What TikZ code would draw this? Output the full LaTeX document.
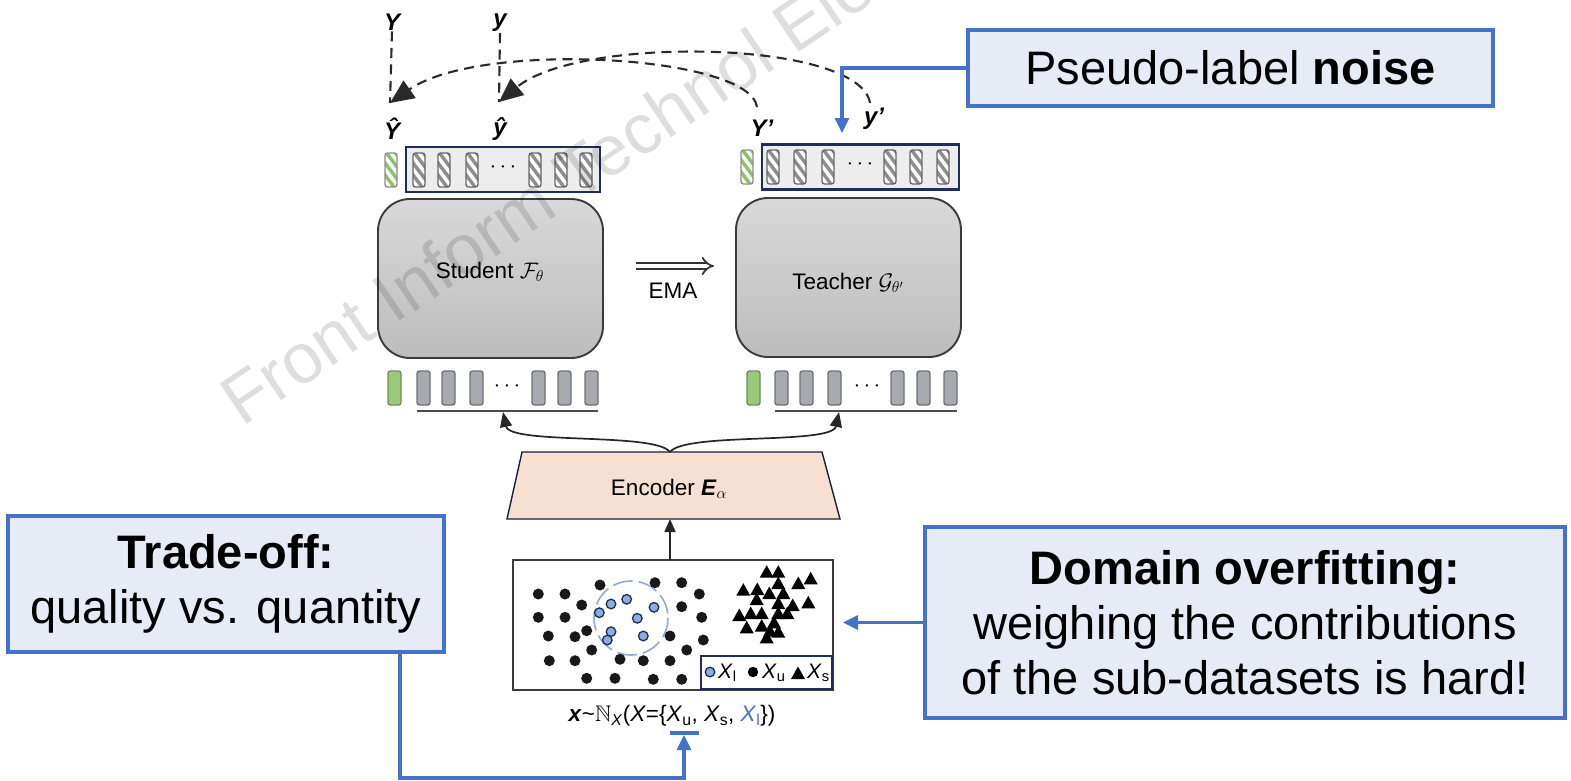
\RequirePackage{fix-cm}
\documentclass[tikz,border=0pt]{standalone}
\usepackage{amssymb}
\usepackage{fontspec}
\setmainfont{Liberation Sans}
\usetikzlibrary{arrows.meta,calc}
\definecolor{cfill}{HTML}{E6EBF6}
\definecolor{cblue}{HTML}{4472C4}
\definecolor{navy}{HTML}{1F2D5A}
\definecolor{tokgrey}{HTML}{A7ABB0}
\definecolor{tokedge}{HTML}{6E7176}
\definecolor{tokgreen}{HTML}{9CC87C}
\definecolor{greenedge}{HTML}{6C8F58}
\definecolor{hatchgrey}{HTML}{8E8E8E}
\definecolor{hatchgreen}{HTML}{8CC26A}
\definecolor{rowfill}{HTML}{EDEDED}
\definecolor{encfill}{HTML}{F7DFD1}
\definecolor{ptblue}{HTML}{8FAADC}
\definecolor{dashgrey}{HTML}{2A2A2A}
\definecolor{boxedge}{HTML}{3B3B3B}
\newcommand\solidtok[3]{\draw[#3, rounded corners=2.5pt, line width=1.4pt] (#1,#2) rectangle ++(13,34);}
\newcommand\hatchtok[4]{%
  \begin{scope}
    \clip[rounded corners=2.5pt] (#1,#2) rectangle ++(12,34);
    \fill[white] (#1,#2) rectangle ++(12,34);
    \foreach \k in {-1,0,1,2,3} {\draw[#3, line width=3.4pt] ([shift={(-3,\k*12-6)}]#1,#2) -- ++(18,24);}
  \end{scope}
  \draw[#4, line width=1.3pt, rounded corners=2.5pt] (#1,#2) rectangle ++(12,34);}
\tikzset{
  callout/.style={draw=cblue, line width=3.3pt, fill=cfill, align=center, inner sep=0pt,
    font=\fontsize{47}{55}\selectfont},
  barr/.style={draw=cblue, line width=3.1pt, -{Triangle[length=15pt,width=14pt]}},
  lab/.style={font=\fontsize{24}{26}\selectfont\bfseries\itshape, inner sep=1pt},
  dsh/.style={draw=dashgrey, line width=2.1pt, dash pattern=on 10pt off 6.5pt},
  modelbox/.style={draw=boxedge, line width=1.9pt, rounded corners=32pt,
    top color=black!15, bottom color=black!26, minimum width=225, minimum height=159, inner sep=0pt},
  rowbox/.style={draw=navy, fill=rowfill, line width=2.9pt, minimum height=45, inner sep=0pt},
  txt/.style={font=\fontsize{22.5}{26}\selectfont, inner sep=0pt},
  blk/.style={draw=black!85, line width=1.7pt, -{Triangle[length=15pt,width=12pt]}},
  tri/.pic={\fill[black] (0,-7.5) -- (7,5) -- (-7,5) -- cycle;}
}
\begin{document}
\begin{tikzpicture}[x=1pt,y=-1pt]
\useasboundingbox (0,0) rectangle (1571,780);
\fill[white] (0,0) rectangle (1571,780);

% ---- callouts
\node[callout, minimum width=525, minimum height=76] (pseudo) at (1230.5,68) {Pseudo-label \textbf{noise}};
\node[callout, minimum width=436, minimum height=136] (trade) at (226,584) {\textbf{Trade-off:}\\quality vs. quantity};
\node[callout, minimum width=640, minimum height=191] (dom) at (1245,622.5) {\textbf{Domain overfitting:}\\weighing the contributions\\of the sub-datasets is hard!};

% ---- top token rows
\node[rowbox, minimum width=194] (srow) at (503,169.5) {};
\node[rowbox, minimum width=197] (trow) at (860.5,167) {};
\hatchtok{385}{153}{hatchgreen}{black!45}
\foreach \x in {413,438,466,529,555,580} {\hatchtok{\x}{153}{hatchgrey}{black!60}}
\node[txt] at (503,167) {$\cdots$};
\hatchtok{741}{150}{hatchgreen}{black!45}
\foreach \x in {767,794,822,884,910,937} {\hatchtok{\x}{150}{hatchgrey}{black!60}}
\node[txt] at (860,164) {$\cdots$};

% ---- model boxes
\node[modelbox] (stu) at (490.5,278.5) {};
\node[modelbox] (tea) at (848.5,277.5) {};
\node[txt] (stul) at (490,272) {Student $\mathcal{F}_{\theta}$};
\node[txt] (teal) at (848,283) {Teacher $\mathcal{G}_{\theta'}$};

% ---- EMA
\coordinate (emaA) at (636,266);
\coordinate (emaB) at (714,266);
\draw[draw=black!80, line width=1.7pt, double=white, double distance=4.5pt, -{Implies}] (emaA) -- (emaB);
\node[txt] (ema) at (673,291) {EMA};

% ---- bottom token rows
\solidtok{388}{371}{fill=tokgreen, draw=greenedge}
\foreach \x in {417,442,470,532,558,585} {\solidtok{\x}{371}{fill=tokgrey, draw=tokedge}}
\node[txt] at (507,386) {$\cdots$};
\solidtok{747}{371}{fill=tokgreen, draw=greenedge}
\foreach \x in {775,800,828,891,917,944} {\solidtok{\x}{371}{fill=tokgrey, draw=tokedge}}
\node[txt] at (867,386) {$\cdots$};
\draw[black!70, line width=1.6pt] (417,411) -- (598,411);
\draw[black!70, line width=1.6pt] (775,411) -- (957,411);

% ---- encoder
\fill[encfill] (522,452) -- (822,452) -- (840,519) -- (507,519) -- cycle;
\draw[navy!70!black, line width=1.4pt] (522,452) -- (822,452) -- (840,519) -- (507,519) -- cycle;
\node[txt] (enc) at (669,489) {Encoder \textbf{\textit{E}}$_{\alpha}$};
\coordinate (encT) at (670,452);
\coordinate (encB) at (670,519);
\coordinate (stuIn) at (503,412);
\coordinate (teaIn) at (839,412);
\draw[blk] (encT) .. controls (655,432) and (510,445) .. (stuIn);
\draw[blk] (encT) .. controls (685,432) and (832,445) .. (teaIn);

% ---- dataset
\node[draw=boxedge, line width=1.9pt, minimum width=320, minimum height=130, inner sep=0pt] (data) at (673,625) {};
\coordinate (dataT) at (670,560);
\draw[blk, -{Triangle[length=13pt,width=11pt]}] (dataT) -- (encB);
\draw[ptblue, line width=1.6pt, dash pattern=on 20pt off 6pt] (631,618) circle (37);
\foreach \a/\b in {538.3/594, 565/594, 600/585, 655/582.7, 681.7/582.7, 699.3/594,
  581.7/605, 538.3/617.3, 565/617.3, 681.7/606.7, 701.7/617.3,
  548.3/636, 575/636.7, 586.7/630.7, 670/636, 703.3/640,
  591.7/650, 686.7/650,
  549.3/660.7, 575/660.7, 620/659.3, 643.3/660.7, 670/660.7,
  586.7/678.3, 615/678.3, 653.3/679.3, 681.7/679.3}
  {\fill[black!90] (\a,\b) circle (5.5);}
\foreach \a/\b in {611/604, 626.7/599.3, 654/607.3, 599.3/612.7, 637.3/618.3, 611/631.7, 607.3/640, 643.3/636}
  {\draw[fill=ptblue, draw=navy, line width=1.3pt] (\a,\b) circle (4.8);}
\foreach \a/\b in {766.7/572.7, 778.3/572.7, 778.3/584, 798.3/584, 810.7/579.3, 743.3/590.7, 757.3/590,
  769.3/594, 783.3/594, 756.7/600, 778.3/604, 792.7/606, 808.3/603.3, 739.3/616, 750.7/614,
  761.7/614, 778.3/614, 787.3/614, 746.7/628.3, 761.7/626.7, 774/623.3, 770/631.7, 778.3/632.7, 766.7/638.3}
  {\pic at (\a,\b) {tri};}

% legend
\node[draw=navy, line width=1.4pt, minimum width=131, minimum height=33, inner sep=0pt] (legend) at (766.5,672.5) {};
\draw[fill=ptblue, draw=navy, line width=1.3pt] (710,672) circle (4.8);
\node[txt, anchor=west, font=\fontsize{21}{24}\selectfont] (lxl) at (718,673) {\textit{X}\textsubscript{l}};
\fill[black] (753,672) circle (5.2);
\node[txt, anchor=west, font=\fontsize{21}{24}\selectfont] (lxu) at (762,673) {\textit{X}\textsubscript{u}};
\pic at (798,674) {tri};
\node[txt, anchor=west, font=\fontsize{21}{24}\selectfont] (lxs) at (807,673) {\textit{X}\textsubscript{s}};

% formula
\node[txt, font=\fontsize{22.5}{26}\selectfont] (formula) at (672,716)
  {\textbf{\textit{x}}\textasciitilde$\mathbb{N}$\textsubscript{\textit{X}}(\textit{X}=\{\textit{X}\textsubscript{u}, \textit{X}\textsubscript{s}, \textcolor{cblue}{\textit{X}\textsubscript{l}}\})};

% ---- labels and dashed arrows
\node[lab] (Y) at (392,22) {Y};
\node[lab] (y) at (500,23) {y};
\node[lab] (Yh) at (392,129) {\^Y};
\node[lab] (yh) at (500,129) {\^y};
\node[lab] (Yp) at (762,128) {Y’};
\node[lab] (yp) at (874,119) {y’};
\coordinate (Yarr) at (390,103);
\coordinate (yarr) at (499,102);
\coordinate (Ypc) at (757,107);
\coordinate (ypc) at (870,103);
\draw[dsh] (Y.south) -- (Yarr);
\draw[dsh] (y.south) -- (yarr);
\draw[dsh, -{Triangle[length=24pt,width=21pt]}] (Ypc) .. controls (750,55) and (480,40) .. (Yarr);
\draw[dsh, -{Triangle[length=24pt,width=21pt]}] (ypc) .. controls (860,40) and (580,35) .. (yarr);

% ---- blue connectors
\coordinate (pseudoT) at (842,133);
\draw[barr] (pseudo.west) -| (pseudoT);
\coordinate (domT) at (843,622.5);
\draw[barr] (dom.west) -- (domT);
\coordinate (tradeOut) at (400,652);
\coordinate (bend) at (400,778);
\coordinate (xuT) at (684,735);
\draw[barr] (tradeOut) -- (bend) -| (xuT);
\draw[cblue, line width=3.1pt] (670,733) -- (699,733);

% ---- watermark
\begin{scope}
\clip (0,0) rectangle (1571,780);
\node[rotate=34, anchor=base west, font=\fontsize{70.5}{76}\selectfont, text=black, text opacity=0.13, inner sep=0pt] (wm) at (242,428) {Front Inform Technol Electron Eng};
\end{scope}
\end{tikzpicture}
\end{document}
